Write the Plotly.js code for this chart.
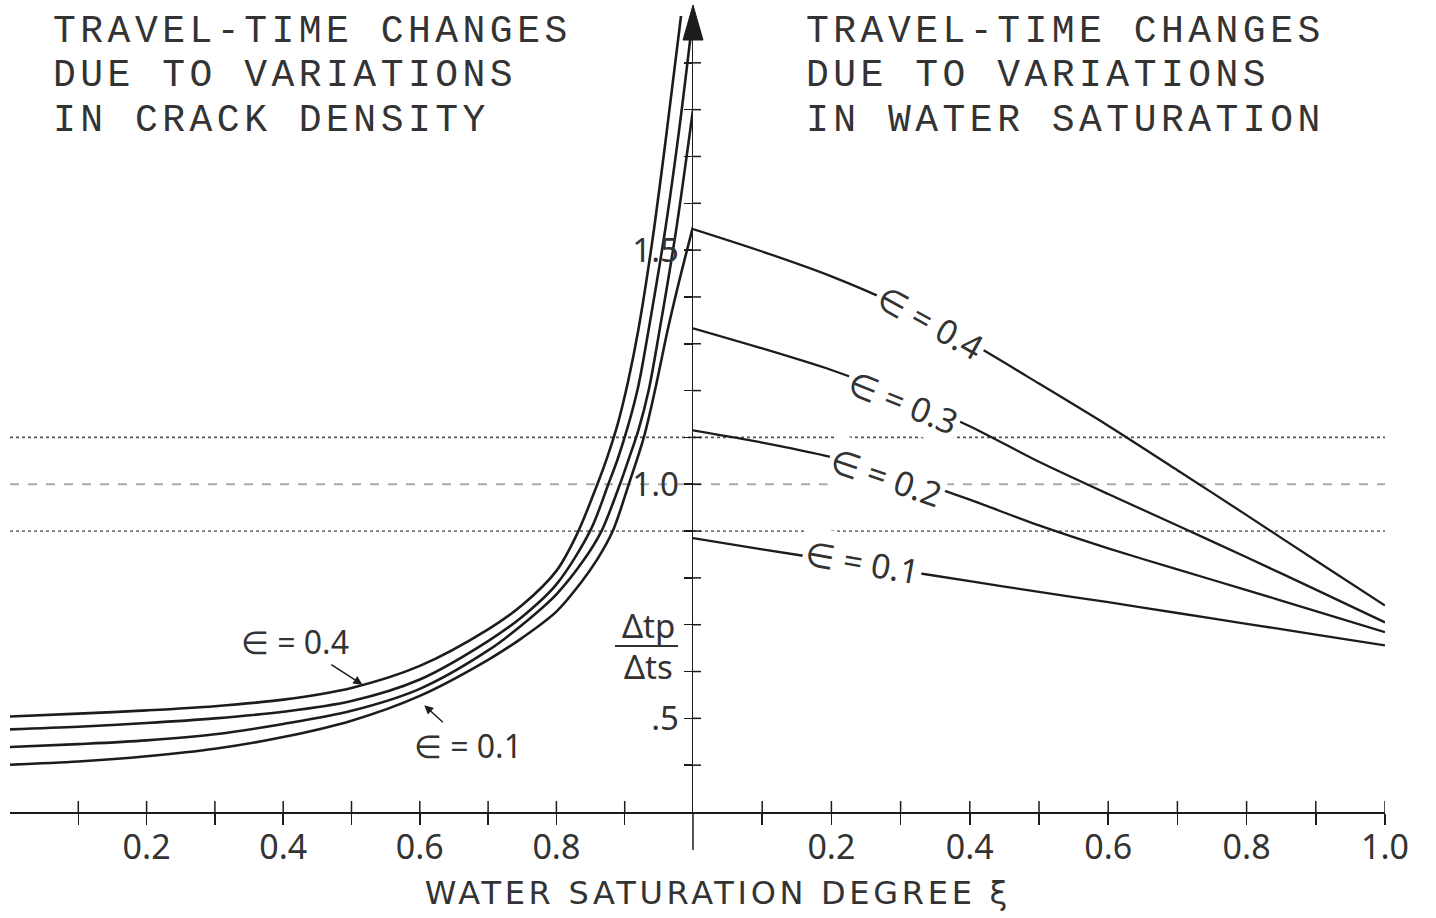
<!DOCTYPE html>
<html><head><meta charset="utf-8">
<script src="https://cdn.plot.ly/plotly-3.0.1.min.js"></script>
<style>
html,body{margin:0;padding:0;background:#fff;} #chart{width:1436px;height:918px;}
g.annotation[data-index="0"] text.annotation-text, g.annotation[data-index="1"] text.annotation-text,
g.annotation[data-index="2"] text.annotation-text, g.annotation[data-index="3"] text.annotation-text,
g.annotation[data-index="4"] text.annotation-text, g.annotation[data-index="5"] text.annotation-text { letter-spacing: 4.5px; }
g.annotation[data-index="6"] text.annotation-text { letter-spacing: 3.7px; }
</style>
</head><body><div id="chart"></div>
<script>
// ---- Left panel: travel-time changes vs water saturation for several crack densities
const crackX_e04 = [0, 0.1, 0.2, 0.3, 0.4, 0.5, 0.6, 0.7, 0.75, 0.8, 0.83, 0.86, 0.875, 0.89, 0.905, 0.92, 0.94, 0.96, 0.985];
const crackY_e04 = [0.504, 0.510, 0.517, 0.526, 0.540, 0.565, 0.612, 0.690, 0.742, 0.815, 0.893, 1.000, 1.060, 1.130, 1.220, 1.330, 1.515, 1.735, 2.03];
const crackX_e03 = [0, 0.1, 0.2, 0.3, 0.4, 0.5, 0.6, 0.7, 0.75, 0.8, 0.85, 0.876, 0.89, 0.905, 0.92, 0.935, 0.96, 0.98, 1.0];
const crackY_e03 = [0.4765, 0.482, 0.490, 0.500, 0.514, 0.537, 0.583, 0.665, 0.717, 0.786, 0.902, 1.000, 1.055, 1.125, 1.21, 1.33, 1.55, 1.76, 2.0];
const crackX_e02 = [0, 0.1, 0.2, 0.3, 0.4, 0.5, 0.6, 0.7, 0.75, 0.8, 0.84, 0.866, 0.893, 0.905, 0.92, 0.935, 0.95, 0.975, 1.0];
const crackY_e02 = [0.4387, 0.445, 0.453, 0.466, 0.488, 0.516, 0.563, 0.645, 0.700, 0.765, 0.838, 0.900, 1.000, 1.05, 1.115, 1.20, 1.32, 1.54, 1.80];
const crackX_e01 = [0, 0.1, 0.2, 0.3, 0.4, 0.5, 0.6, 0.7, 0.75, 0.8, 0.835, 0.86, 0.8825, 0.906, 0.928, 0.945, 0.963, 0.98, 1.0];
const crackY_e01 = [0.401, 0.408, 0.419, 0.435, 0.460, 0.495, 0.548, 0.625, 0.672, 0.728, 0.788, 0.840, 0.900, 1.000, 1.100, 1.205, 1.330, 1.435, 1.55];

// ---- Right panel: travel-time changes vs water saturation
const satX = [0, 0.1, 0.2, 0.3, 0.4, 0.5, 0.6, 0.7, 0.8, 0.9, 1.0];
const satY_e04 = [1.545, 1.497, 1.444, 1.380, 1.303, 1.215, 1.125, 1.030, 0.934, 0.837, 0.741];
const satY_e03 = [1.333, 1.290, 1.244, 1.189, 1.124, 1.048, 0.979, 0.912, 0.844, 0.775, 0.705];
const satY_e02 = [1.115, 1.089, 1.058, 1.018, 0.967, 0.912, 0.863, 0.818, 0.774, 0.729, 0.684];
const satY_e01 = [0.885, 0.861, 0.838, 0.816, 0.793, 0.770, 0.748, 0.725, 0.702, 0.679, 0.656];

// ---- Reference band levels
const bandLevels = [1.1, 1.0, 0.9];
const bandDash = ['dot', 'dash', 'dot'];
const bandColor = ['#555', '#aaa', '#777'];

// ---- Ticks
const leftXTicks = [0.1, 0.2, 0.3, 0.4, 0.5, 0.6, 0.7, 0.8, 0.9];
const leftXTickText = ['', '0.2', '', '0.4', '', '0.6', '', '0.8', ''];
const rightXTicks = [0.1, 0.2, 0.3, 0.4, 0.5, 0.6, 0.7, 0.8, 0.9, 1.0];
const rightXTickText = ['', '0.2', '', '0.4', '', '0.6', '', '0.8', '', '1.0'];
const yTicks = [0.4, 0.5, 0.6, 0.7, 0.8, 0.9, 1.0, 1.1, 1.2, 1.3, 1.4, 1.5, 1.6, 1.7, 1.8, 1.9];
const yTickText = ['', '.5', '', '', '', '', '1.0', '', '', '', '', '1.5', '', '', '', ''];

const leftTitleLines = ['TRAVEL-TIME CHANGES', 'DUE TO VARIATIONS', 'IN CRACK DENSITY'];
const rightTitleLines = ['TRAVEL-TIME CHANGES', 'DUE TO VARIATIONS', 'IN WATER SATURATION'];
const xTitle = 'WATER SATURATION DEGREE ξ';
const leftLabelText = ['∈ = 0.4', '∈ = 0.1'];
const rightLabelText = ['∈ = 0.4', '∈ = 0.3', '∈ = 0.2', '∈ = 0.1'];

const INK = '#1c1c1c';
const SANS = 'Noto Sans, DejaVu Sans, sans-serif';
const MONO = 'Liberation Mono, DejaVu Sans Mono, monospace';
const f = 683 / 1375;

const traces = [];
bandLevels.forEach((lv, i) => {
  ['x', 'x2'].forEach(ax => {
    traces.push({x: [0, 1], y: [lv, lv], xaxis: ax, yaxis: 'y', mode: 'lines',
      line: {color: bandColor[i], width: 1.8, dash: bandDash[i]}, hoverinfo: 'skip'});
  });
});
[[crackX_e04, crackY_e04], [crackX_e03, crackY_e03], [crackX_e02, crackY_e02], [crackX_e01, crackY_e01]].forEach(([xs, ys]) => {
  traces.push({x: xs, y: ys, xaxis: 'x', yaxis: 'y', mode: 'lines',
    line: {color: INK, width: 2.6, shape: 'spline', smoothing: 0.9}});
});
[satY_e04, satY_e03, satY_e02, satY_e01].forEach(ys => {
  traces.push({x: satX, y: ys, xaxis: 'x2', yaxis: 'y', mode: 'lines',
    line: {color: INK, width: 2.3, shape: 'spline', smoothing: 0.7}});
});

const shapes = [];
leftXTicks.forEach(t => shapes.push({type: 'line', xref: 'x', yref: 'y', ysizemode: 'pixel', yanchor: 0.3,
  x0: t, x1: t, y0: 0, y1: 11, line: {color: INK, width: 1.5}}));
rightXTicks.forEach(t => shapes.push({type: 'line', xref: 'x2', yref: 'y', ysizemode: 'pixel', yanchor: 0.3,
  x0: t, x1: t, y0: 0, y1: 11, line: {color: INK, width: 1.5}}));
yTicks.forEach(t => shapes.push({type: 'line', xref: 'x2', yref: 'y', xsizemode: 'pixel', xanchor: 0,
  x0: 0, x1: 8, y0: t, y1: t, line: {color: INK, width: 1.5}}));
shapes.push({type: 'line', xref: 'paper', yref: 'paper', xsizemode: 'pixel', xanchor: f, ysizemode: 'pixel', yanchor: 0,
  x0: 0, x1: 0, y0: -38, y1: 0, line: {color: INK, width: 1.5}});
shapes.push({type: 'path', xref: 'paper', yref: 'paper', xsizemode: 'pixel', xanchor: f, ysizemode: 'pixel', yanchor: 1,
  path: 'M0,11 L-10,-24 L10,-24 Z', fillcolor: INK, line: {color: INK, width: 1}});
shapes.push({type: 'line', xref: 'paper', yref: 'paper', x0: (615 - 10) / 1375, x1: (678 - 10) / 1375,
  y0: (812 - 646) / 796, y1: (812 - 646) / 796, line: {color: '#333', width: 2}});

const annotations = [];
const titleYs = [0.9807, 0.9254, 0.8688];
leftTitleLines.forEach((t, i) => annotations.push({xref: 'paper', yref: 'paper', x: (52 - 10) / 1375, y: titleYs[i],
  xanchor: 'left', yanchor: 'middle', align: 'left', showarrow: false, text: t, borderpad: 0,
  font: {family: MONO, size: 38, color: '#333'}}));
rightTitleLines.forEach((t, i) => annotations.push({xref: 'paper', yref: 'paper', x: (805 - 10) / 1375, y: titleYs[i],
  xanchor: 'left', yanchor: 'middle', align: 'left', showarrow: false, text: t, borderpad: 0,
  font: {family: MONO, size: 38, color: '#333'}}));
annotations.push({xref: 'paper', yref: 'paper', x: (718 - 10) / 1375, y: (812 - 893) / 796, xanchor: 'center', yanchor: 'middle',
  showarrow: false, text: xTitle, font: {family: 'DejaVu Sans, sans-serif', size: 32, color: '#333'}});
annotations.push({xref: 'paper', yref: 'paper', x: (648 - 10) / 1375, y: (812 - 625) / 796, xanchor: 'center', yanchor: 'middle',
  showarrow: false, text: 'Δtp', font: {family: SANS, size: 33, color: '#333'}});
annotations.push({xref: 'paper', yref: 'paper', x: (648 - 10) / 1375, y: (812 - 666) / 796, xanchor: 'center', yanchor: 'middle',
  showarrow: false, text: 'Δts', font: {family: SANS, size: 33, color: '#333'}});
annotations.push({xref: 'x', yref: 'y', x: 0.516, y: 0.572, text: leftLabelText[0], showarrow: true, arrowhead: 2, arrowsize: 1.2,
  arrowwidth: 1.5, arrowcolor: INK, ax: -67, ay: -43, font: {family: SANS, size: 32, color: '#333'}});
annotations.push({xref: 'x', yref: 'y', x: 0.6065, y: 0.528, text: leftLabelText[1], showarrow: true, arrowhead: 2, arrowsize: 1.2,
  arrowwidth: 1.5, arrowcolor: INK, ax: 44, ay: 40, font: {family: SANS, size: 32, color: '#333'}});
const rightLabelPos = [[0.343, 1.346, 29], [0.304, 1.176, 22], [0.28, 1.016, 19], [0.245, 0.834, 10]];
rightLabelText.forEach((t, i) => annotations.push({xref: 'x2', yref: 'y', x: rightLabelPos[i][0], y: rightLabelPos[i][1],
  textangle: rightLabelPos[i][2], text: t, showarrow: false, bgcolor: '#fff', borderpad: 2,
  font: {family: SANS, size: 34, color: '#333'}}));

const axCommon = {showgrid: false, zeroline: false, showline: true, linecolor: INK, linewidth: 1.5,
  ticks: 'outside', ticklen: 11, tickwidth: 1.5, tickcolor: INK, tickmode: 'array',
  tickfont: {family: SANS, size: 34, color: '#333'}, fixedrange: true};

const layout = {
  width: 1436, height: 918, paper_bgcolor: '#fff', plot_bgcolor: '#fff', showlegend: false,
  margin: {l: 10, r: 51, t: 16, b: 106},
  xaxis: Object.assign({}, axCommon, {domain: [0, f], range: [0, 1], anchor: 'y', tickvals: leftXTicks, ticktext: leftXTickText, ticklabelstandoff: -6}),
  xaxis2: Object.assign({}, axCommon, {domain: [f, 1], range: [0, 1], anchor: 'y', tickvals: rightXTicks, ticktext: rightXTickText, ticklabelstandoff: -6}),
  yaxis: Object.assign({}, axCommon, {range: [0.3, 2.0], anchor: 'x2', side: 'left', ticklen: 8, tickvals: yTicks, ticktext: yTickText, ticklabelstandoff: -2,
    tickfont: {family: SANS, size: 33, color: '#333'}}),
  shapes: shapes, annotations: annotations
};
Plotly.newPlot('chart', traces, layout, {displayModeBar: false, staticPlot: true});
</script></body></html>
